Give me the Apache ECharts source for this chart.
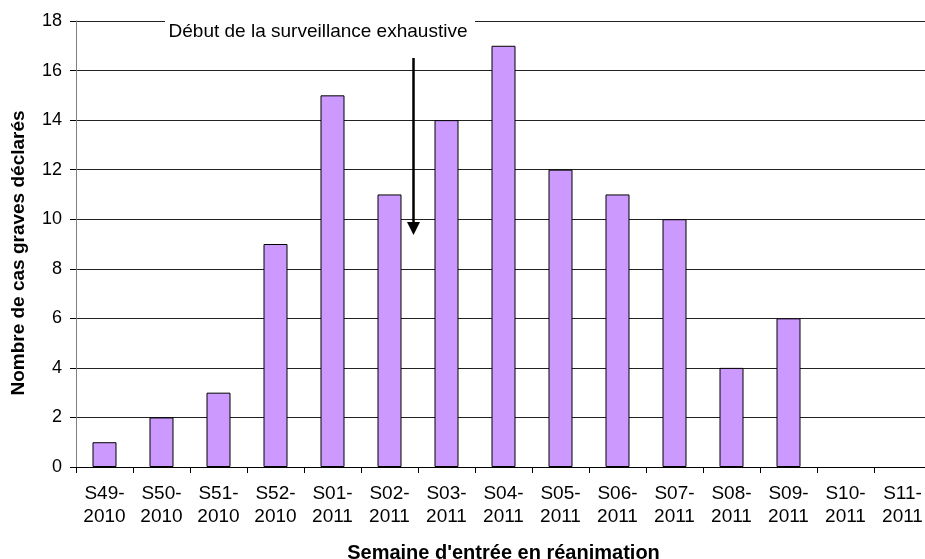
<!DOCTYPE html>
<html>
<head>
<meta charset="utf-8">
<title>Cas graves</title>
<script src="https://cdn.jsdelivr.net/npm/echarts@6/dist/echarts.min.js"></script>
<style>
  html, body { margin: 0; padding: 0; background: #fff; }
  #chart { width: 925px; height: 559px; }
</style>
</head>
<body>
<div id="chart"></div>
<script>
// semaines d'entrée en réanimation
const weeks = ['S49-\n2010', 'S50-\n2010', 'S51-\n2010', 'S52-\n2010', 'S01-\n2011', 'S02-\n2011', 'S03-\n2011',
  'S04-\n2011', 'S05-\n2011', 'S06-\n2011', 'S07-\n2011', 'S08-\n2011', 'S09-\n2011', 'S10-\n2011', 'S11-\n2011']
const cases = [1, 2, 3, 9, 15, 11, 14, 17, 12, 11, 10, 4, 6, 0, 0]
const annotation = 'Début de la surveillance exhaustive'

const font = 'Arial, "Liberation Sans", sans-serif'
const chart = echarts.init(document.getElementById('chart'))

chart.setOption({
  animation: false,
  grid: {
    left: 76,
    right: -6,
    top: 21,
    bottom: 92,
    outerBoundsMode: 'none'
  },
  xAxis: {
    type: 'category',
    data: weeks,
    name: "Semaine d'entrée en réanimation",
    nameLocation: 'middle',
    nameGap: 76,
    nameMoveOverlap: false,
    nameTextStyle: { fontFamily: font, fontSize: 20, fontWeight: 'bold', color: '#000' },
    axisLine: { lineStyle: { color: '#000', width: 1 } },
    axisTick: { show: true, length: 6, alignWithLabel: false, lineStyle: { color: '#000' } },
    axisLabel: {
      interval: 0,
      margin: 15,
      fontFamily: font,
      fontSize: 19,
      lineHeight: 23,
      color: '#000'
    }
  },
  yAxis: {
    type: 'value',
    min: 0,
    max: 18,
    interval: 2,
    name: 'Nombre de cas graves déclarés',
    nameLocation: 'middle',
    nameGap: 48,
    nameMoveOverlap: false,
    nameTextStyle: { fontFamily: font, fontSize: 19, fontWeight: 'bold', color: '#000', padding: [0, 18, 0, 0] },
    axisLine: { show: true, lineStyle: { color: '#808080', width: 1 } },
    axisTick: { show: true, length: 6, lineStyle: { color: '#000' } },
    axisLabel: { margin: 14, fontFamily: font, fontSize: 18, color: '#000' },
    splitLine: { lineStyle: { color: '#222', width: 1 } }
  },
  series: [{
    type: 'bar',
    // les semaines à zéro ne dessinent pas de contour
    data: cases.map(v => v === 0 ? { value: v, itemStyle: { borderWidth: 0 } } : v),
    barWidth: 24,
    itemStyle: {
      color: '#CC99FF',
      borderColor: '#000',
      borderWidth: 1
    }
  }],
  graphic: [
    // encadré blanc du texte (coupe la ligne de 18)
    {
      type: 'rect',
      shape: { x: 165, y: 12, width: 310, height: 30 },
      style: { fill: '#fff' },
      z: 100
    },
    {
      type: 'text',
      x: 318,
      y: 32,
      style: {
        text: annotation,
        fontFamily: font,
        fontSize: 19,
        fill: '#000',
        align: 'center',
        verticalAlign: 'middle'
      },
      z: 101
    },
    // flèche
    {
      type: 'line',
      shape: { x1: 413.5, y1: 58, x2: 413.5, y2: 224 },
      style: { stroke: '#000', lineWidth: 2.5 },
      z: 100
    },
    {
      type: 'polygon',
      shape: { points: [[407, 222], [420, 222], [413.5, 235]] },
      style: { fill: '#000' },
      z: 100
    }
  ]
})
</script>
</body>
</html>
